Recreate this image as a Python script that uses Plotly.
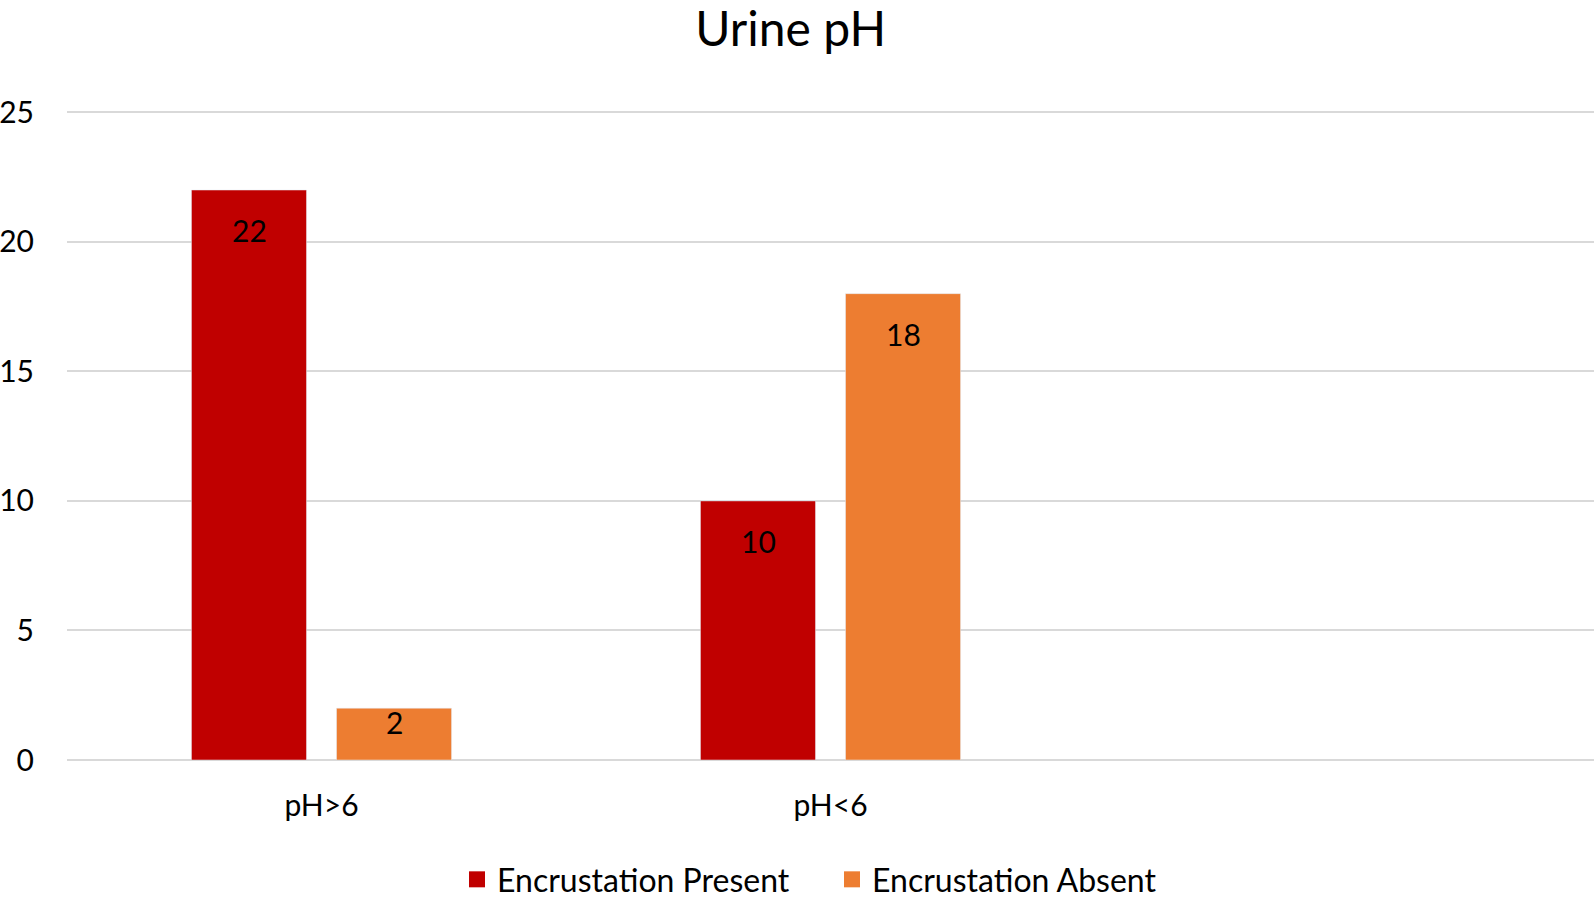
import plotly.graph_objects as go

categories = ["pH>6", "pH<6"]
present = [22, 10]
absent = [2, 18]
y_ticks = [0, 5, 10, 15, 20, 25]

series = [
    ("Encrustation Present", present, "#C00000"),
    ("Encrustation Absent", absent, "#ED7D31"),
]

font_family = "Lato, 'Open Sans', sans-serif"
px_per_unit = 130 / 5  # plot height / y units, used to keep labels inside short bars

fig = go.Figure()
for name, vals, color in series:
    fig.add_trace(go.Bar(x=categories, y=vals, name=name, marker_color=color,
                         showlegend=False))
    # legend entry with a larger square swatch
    fig.add_trace(go.Scatter(x=[None], y=[None], mode="markers", name=name,
                             marker=dict(symbol="square", size=19, color=color)))

# value labels, placed just inside the top of each bar
for k, (name, vals, color) in enumerate(series):
    shift = -72.5 if k == 0 else 72.5
    for cat, v in zip(categories, vals):
        fig.add_annotation(x=cat, y=v, text=str(v), showarrow=False,
                           xshift=shift, yshift=-min(40, px_per_unit * v - 38),
                           yanchor="middle", font=dict(size=30, color="black"))

fig.update_layout(
    width=1594, height=903,
    paper_bgcolor="white", plot_bgcolor="white",
    font=dict(family=font_family, color="black"),
    title=dict(text="Urine pH", x=0.496, xanchor="center", y=0.968, yanchor="middle",
               font=dict(size=48, color="black")),
    barmode="group", bargap=0.43, bargroupgap=0.207,
    margin=dict(l=67, r=0, t=111, b=143),
    showlegend=True,
    legend=dict(orientation="h", x=0.501, xanchor="center",
                yref="container", y=0.026, yanchor="middle",
                font=dict(size=32), traceorder="normal", itemwidth=30,
                entrywidth=330),
)
fig.update_xaxes(
    type="category", categoryorder="array", categoryarray=categories,
    range=[-0.5, 2.5], showgrid=False, showline=False, zeroline=False,
    tickfont=dict(size=30), ticks="", ticklabelstandoff=25, automargin=False,
)
fig.update_yaxes(
    range=[0, 25.05], tickvals=y_ticks, showgrid=True, gridcolor="#D9D9D9", gridwidth=2,
    zeroline=True, zerolinecolor="#D9D9D9", zerolinewidth=2, showline=False,
    tickfont=dict(size=30), ticks="", ticklabelstandoff=32, automargin=False,
)

fig.write_html("out.html", config={"displayModeBar": False},
               post_script="document.body.style.margin='0';document.body.style.overflow='hidden';")
